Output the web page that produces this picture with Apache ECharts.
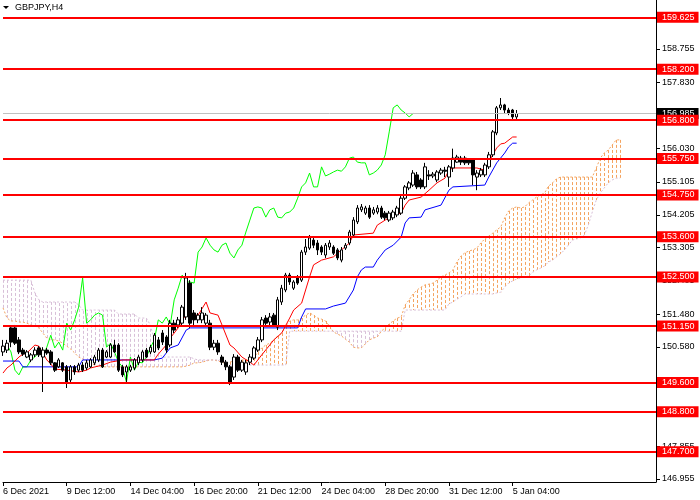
<!DOCTYPE html>
<html><head><meta charset="utf-8">
<script src="https://cdn.jsdelivr.net/npm/echarts@6/dist/echarts.min.js"></script>
<style>html,body{margin:0;padding:0;background:#fff}#c{width:700px;height:500px}</style>
</head><body><div id="c"></div><script>
const FONT = '"Liberation Sans", Arial, sans-serif';
const symbolTitle = 'GBPJPY,H4';
const xTickLabels = ['6 Dec 2021','9 Dec 12:00','14 Dec 04:00','16 Dec 20:00','21 Dec 12:00','24 Dec 04:00','28 Dec 20:00','31 Dec 12:00','5 Jan 04:00'];
const barsPerLabel = 16;
const yTickValues = [158.755,157.830,156.905,156.030,155.105,154.205,153.305,152.405,151.480,150.580,147.855,146.955];
const levelLines = [159.625,158.200,156.800,155.750,154.750,153.600,152.500,151.150,149.600,148.800,147.700];
const bidPrice = 156.985;
// candles: [open, close, low, high]
const ohlc = [
[150.44,150.60,150.33,150.77],[150.49,150.68,150.41,150.77],[151.10,150.71,150.57,151.15],[151.10,150.68,150.63,151.18],
[150.77,150.44,150.38,150.85],[150.49,150.38,150.33,150.55],[150.30,150.44,150.27,150.49],[150.22,150.36,150.16,150.41],
[150.36,150.49,150.30,150.57],[150.55,150.36,150.30,150.60],[150.30,150.49,149.34,150.57],[150.49,150.41,150.36,150.55],
[150.44,150.14,150.08,150.49],[150.14,149.94,149.89,150.16],[150.03,150.22,150.00,150.27],[150.14,149.94,149.89,150.16],
[150.03,149.61,149.45,150.08],[149.67,150.03,149.61,150.08],[150.03,149.89,149.81,150.08],[149.94,150.08,149.89,150.14],
[150.08,149.94,149.89,150.16],[150.00,150.14,149.94,150.22],[150.03,150.22,150.00,150.27],[150.14,150.30,150.08,150.36],
[150.22,150.49,150.16,150.55],[150.49,150.03,150.00,150.55],[150.30,150.44,150.27,150.49],[150.30,150.63,150.27,150.68],
[150.63,150.44,150.41,150.77],[150.63,149.94,149.89,150.68],[150.03,149.81,149.75,150.08],[149.89,150.03,149.61,150.08],
[149.94,150.03,149.89,150.08],[150.00,150.22,149.94,150.27],[150.14,150.30,150.08,150.36],[150.22,150.44,150.16,150.49],
[150.49,150.30,150.27,150.55],[150.44,150.57,150.38,150.63],[150.44,150.90,150.41,150.96],[150.77,150.55,150.49,150.85],
[150.96,150.71,150.63,151.04],[150.85,150.49,150.41,150.90],[150.63,151.23,150.57,151.32],[151.23,151.04,150.96,151.32],
[151.18,151.32,151.10,151.40],[151.23,151.67,151.15,151.73],[151.40,152.47,151.32,152.61],[152.33,151.23,151.10,152.41],
[151.51,151.32,151.15,151.59],[151.32,151.45,151.23,151.51],[151.32,151.51,151.23,151.67],[151.23,151.45,151.18,151.51],
[151.23,150.57,150.49,151.32],[150.57,150.68,150.49,150.77],[150.68,150.44,150.36,150.77],[150.30,150.16,150.08,150.36],
[150.16,150.03,149.94,150.22],[150.03,149.61,149.53,150.08],[149.75,150.30,149.67,150.38],[150.30,149.94,149.89,150.36],
[149.94,150.16,149.89,150.22],[149.89,150.14,149.81,150.22],[150.16,150.30,150.08,150.38],[150.27,150.55,150.22,150.60],
[150.49,150.77,150.44,150.85],[150.77,151.32,150.71,151.40],[151.37,151.23,151.18,151.45],[151.26,151.40,151.18,151.51],
[151.45,151.18,151.15,151.51],[151.12,151.87,151.04,151.95],[151.81,152.19,151.73,152.28],[152.14,152.55,152.08,152.61],
[152.55,152.36,152.28,152.61],[152.19,152.36,152.14,152.41],[152.47,152.33,152.28,152.55],[152.41,153.18,152.36,153.24],
[153.18,153.32,153.10,153.54],[153.29,153.57,153.24,153.65],[153.51,153.37,153.29,153.57],[153.43,153.24,153.10,153.51],
[153.32,153.18,153.10,153.37],[153.10,153.37,153.02,153.43],[153.32,153.43,153.24,153.51],[153.32,153.15,153.10,153.37],
[153.24,153.02,152.96,153.29],[152.96,153.24,152.90,153.32],[153.29,153.37,153.24,153.43],[153.43,153.73,153.37,153.79],
[153.65,154.06,153.57,154.14],[154.01,154.39,153.95,154.47],[154.34,154.42,154.28,154.50],[154.25,154.39,154.20,154.45],
[154.39,154.14,154.09,154.47],[154.25,154.34,154.20,154.42],[154.28,154.39,154.22,154.47],[154.39,154.14,154.09,154.45],
[154.25,154.12,154.06,154.31],[154.06,154.25,154.01,154.31],[154.12,154.28,154.06,154.34],[154.20,154.39,154.14,154.45],
[154.25,154.66,154.20,154.72],[154.66,154.97,154.61,155.02],[154.94,155.08,154.88,155.13],[155.02,155.35,154.97,155.43],
[155.30,154.97,154.91,155.38],[155.16,154.97,154.91,155.21],[154.97,155.52,154.91,155.63],[155.30,155.27,155.16,155.43],
[155.27,155.32,155.21,155.38],[155.16,155.38,155.10,155.43],[155.35,155.43,155.30,155.49],[155.43,155.40,155.24,155.52],
[155.24,155.52,154.97,155.57],[155.49,155.76,155.38,156.02],[155.65,155.79,155.63,155.85],[155.76,155.65,155.57,155.82],
[155.76,155.63,155.57,155.82],[155.71,155.63,155.57,155.76],[155.71,155.30,155.02,155.76],[155.24,155.35,154.88,155.43],
[155.30,155.43,155.24,155.49],[155.30,155.57,155.24,155.63],[155.52,155.85,155.46,155.93],[155.85,156.48,155.79,156.53],
[156.45,157.14,156.39,157.19],[157.14,157.22,157.08,157.41],[157.22,157.08,156.97,157.25],[157.08,157.00,156.94,157.14],
[157.08,156.89,156.83,157.11],[156.89,156.985,156.81,157.08]
];
// Tenkan-sen [bar, price]
const tenkan = [[0,149.86],[1,150.00],[2,150.08],[3,150.19],[4,150.30],[5,150.38],[6,150.41],[7,150.52],[8,150.63],[9,150.60],
[10,150.41],[11,150.22],[12,150.11],[13,149.97],[16,149.94],[19,149.89],[21,149.94],[22,150.00],[25,150.08],[27,150.16],
[30,150.22],[38,150.22],[39,150.38],[41,150.63],[42,150.82],[44,151.10],[45,151.32],[46,151.45],[49,151.45],[51,151.81],
[52,151.51],[54,151.45],[55,151.18],[57,150.63],[58,150.55],[60,150.30],[62,150.16],[63,150.08],[65,150.36],[67,150.63],
[68,150.77],[70,150.96],[72,151.37],[73,151.59],[75,151.78],[77,152.50],[78,152.83],[80,152.96],[83,153.05],[85,153.24],
[87,153.43],[88,153.65],[93,153.70],[94,153.92],[96,154.06],[98,154.20],[100,154.25],[101,154.47],[102,154.61],[105,154.69],
[107,154.88],[109,155.08],[111,155.21],[112,155.43],[113,155.49],[119,155.49],[121,155.43],[122,155.65],[123,155.85],[124,156.04],
[125,156.15],[126,156.17],[128,156.34],[129,156.34]];
// Kijun-sen [bar, price]
const kijun = [[0,150.19],[4,150.19],[5,150.03],[19,150.03],[20,150.22],[38,150.22],[40,150.27],[42,150.55],[44,150.63],[46,151.04],
[47,151.10],[74,151.10],[75,151.40],[76,151.62],[81,151.62],[83,151.70],[86,151.78],[88,152.14],[89,152.50],[90,152.69],
[91,152.77],[93,152.77],[94,152.96],[96,153.24],[98,153.37],[100,153.59],[101,153.98],[102,154.12],[105,154.14],[106,154.34],
[110,154.47],[112,154.88],[113,154.97],[121,155.02],[122,155.24],[124,155.63],[126,155.90],[127,156.07],[128,156.17],[129,156.17]];
const chikouShift = 26;
// Senkou Span A / B per bar (already shifted forward on the chart)
const spanA = [
151.65,151.37,151.29,151.29,151.26,151.26,151.23,151.18,151.15,151.10,
150.96,150.82,150.77,150.77,150.74,150.68,150.60,150.52,150.41,150.30,
150.25,150.19,150.14,150.08,150.03,150.03,150.03,150.03,150.03,150.03,
150.03,150.03,150.03,150.03,150.03,150.03,150.03,150.03,150.03,150.03,
150.03,150.03,150.03,150.03,150.03,150.03,150.05,150.08,150.14,150.14,
150.16,150.19,150.22,150.22,150.19,150.16,150.11,150.16,150.19,150.19,
150.22,150.22,150.22,150.27,150.44,150.55,150.63,150.68,150.77,150.88,
150.96,151.15,151.29,151.32,151.32,151.37,151.45,151.51,151.45,151.37,
151.34,151.29,151.15,150.99,150.93,150.88,150.79,150.71,150.57,150.55,
150.55,150.66,150.77,150.82,150.85,151.01,151.10,151.21,151.29,151.37,
151.40,151.73,151.87,152.03,152.14,152.22,152.28,152.30,152.33,152.41,
152.50,152.55,152.61,152.69,152.91,153.07,153.16,153.21,153.24,153.29,
153.43,153.54,153.62,153.70,153.79,153.87,154.12,154.31,154.39,154.42,
154.39,154.42,154.53,154.61,154.69,154.75,154.80,154.99,155.08,155.19,
155.24,155.24,155.24,155.24,155.24,155.24,155.24,155.24,155.24,155.49,
155.76,155.90,155.98,156.12,156.26,156.26];
const spanB = [
152.41,152.41,152.41,152.41,152.41,152.41,152.41,152.41,152.06,151.87,
151.81,151.81,151.81,151.81,151.81,151.81,151.81,151.81,151.81,151.73,
151.59,151.59,151.59,151.59,151.59,151.59,151.59,151.59,151.59,151.48,
151.48,151.48,151.48,151.48,151.37,151.37,151.37,151.18,150.77,150.44,
150.30,150.30,150.30,150.30,150.30,150.30,150.30,150.30,150.25,150.22,
150.22,150.22,150.22,150.22,150.22,150.22,150.16,150.08,150.08,150.08,
150.08,150.08,150.08,150.08,150.08,150.08,150.08,150.08,150.08,150.08,
150.08,150.08,151.01,151.01,151.01,151.01,151.01,151.01,151.01,151.01,
151.01,151.01,151.01,151.01,151.01,151.01,151.01,151.01,151.01,151.01,
151.01,151.01,151.01,151.01,151.01,151.01,151.01,151.01,151.01,151.01,
151.01,151.59,151.59,151.59,151.59,151.59,151.59,151.59,151.59,151.59,
151.59,151.59,151.76,151.81,151.89,151.95,152.03,152.03,152.03,152.03,
152.03,152.03,152.03,152.03,152.06,152.08,152.22,152.33,152.39,152.44,
152.47,152.50,152.52,152.63,152.69,152.74,152.80,152.91,152.96,153.05,
153.13,153.24,153.37,153.51,153.54,153.57,153.65,153.92,154.28,154.61,
154.80,154.94,155.08,155.16,155.21,155.21];
const totalSlots = 165;

const barSlots = [];
for (let i = 0; i < totalSlots; i++) barSlots.push(String(i));
const chikou = ohlc.slice(chikouShift).map((c, i) => [i, c[1]]);
const cloud = spanA.map((a, i) => [i, a, spanB[i]]);
const showLabel = (idx) => idx % barsPerLabel === 0 && idx / barsPerLabel < xTickLabels.length;

const chart = echarts.init(document.getElementById('c'), null, {renderer: 'canvas'});
chart.setOption({
  animation: false,
  backgroundColor: '#ffffff',
  grid: {left: 0, right: 44, top: 0, bottom: 18, containLabel: false},
  xAxis: {
    type: 'category', data: barSlots, boundaryGap: false,
    axisLine: {show: true, lineStyle: {color: '#000', width: 1}},
    axisTick: {show: true, interval: (i) => showLabel(i), length: 4, lineStyle: {color: '#000'}},
    axisLabel: {show: true, interval: (i) => showLabel(i), align: 'left', margin: 5,
      formatter: (v, i) => xTickLabels[Number(v) / barsPerLabel] || '',
      color: '#000', fontSize: 9, fontFamily: FONT},
    splitLine: {show: false}
  },
  yAxis: {
    type: 'value', position: 'right', min: 146.87, max: 160.10, scale: true,
    axisLine: {show: true, lineStyle: {color: '#000', width: 1}},
    axisTick: {show: true, customValues: yTickValues, length: 4, lineStyle: {color: '#000'}},
    axisLabel: {show: true, customValues: yTickValues, margin: 6, formatter: (v) => v.toFixed(3),
      color: '#000', fontSize: 9, fontFamily: FONT},
    splitLine: {show: false}
  },
  graphic: [
    {type: 'polygon', shape: {points: [[3, 6], [9, 6], [6, 9]]}, style: {fill: '#000'}, z: 100},
    {type: 'text', x: 15, y: 3, style: {text: symbolTitle, font: '9px ' + FONT, fill: '#000'}, z: 100}
  ],
  series: [
    {
      type: 'custom', name: 'cloud', z: 1, silent: true,
      data: cloud,
      encode: {x: 0, y: [1, 2]},
      renderItem: function (params, api) {
        const i = api.value(0), a = api.value(1), b = api.value(2);
        const p1 = api.coord([i, a]), p2 = api.coord([i, b]);
        const x = Math.round(p1[0]) + 0.5;
        return {type: 'line', shape: {x1: x, y1: p1[1], x2: x, y2: p2[1]},
          style: {stroke: a >= b ? '#F4A460' : '#D8BFD8', lineWidth: 1, lineDash: [3, 2]}};
      }
    },
    {type: 'line', name: 'spanA', z: 2, data: spanA.map((v, i) => [i, v]), showSymbol: false, silent: true,
      lineStyle: {color: '#F4A460', width: 1, type: [2, 2]}},
    {type: 'line', name: 'spanB', z: 2, data: spanB.map((v, i) => [i, v]), showSymbol: false, silent: true,
      lineStyle: {color: '#D8BFD8', width: 1, type: [2, 2]}},
    {type: 'line', name: 'chikou', z: 3, data: chikou, showSymbol: false, silent: true,
      lineStyle: {color: '#00FF00', width: 1}},
    {type: 'line', name: 'kijun', z: 3, data: kijun, showSymbol: false, silent: true,
      lineStyle: {color: '#0000FF', width: 1}},
    {type: 'line', name: 'tenkan', z: 3, data: tenkan, showSymbol: false, silent: true,
      lineStyle: {color: '#FF0000', width: 1}},
    {type: 'candlestick', name: 'GBPJPY', z: 4, data: ohlc, barWidth: 3, silent: true,
      itemStyle: {color: '#FFFFFF', color0: '#000000', borderColor: '#000000', borderColor0: '#000000', borderWidth: 1}},
    {type: 'line', name: 'bid', z: 5, data: [], silent: true,
      markLine: {silent: true, symbol: ['none', 'none'], animation: false, precision: 3,
        lineStyle: {color: '#C0C0C0', width: 1, type: 'solid'},
        label: {show: true, position: 'end', distance: 1, formatter: (p) => Number(p.value).toFixed(3),
          color: '#fff', backgroundColor: '#000', padding: [1, 4, 0, 5], fontSize: 9, lineHeight: 10, fontFamily: FONT},
        data: [{yAxis: bidPrice}]}},
    {type: 'line', name: 'levels', z: 6, data: [], silent: true,
      markLine: {silent: true, symbol: ['none', 'none'], animation: false, precision: 3,
        lineStyle: {color: '#FF0000', width: 2, type: 'solid'},
        label: {show: true, position: 'end', distance: 1, formatter: (p) => Number(p.value).toFixed(3),
          color: '#fff', backgroundColor: '#FF0000', padding: [1, 4, 0, 5], fontSize: 9, lineHeight: 10, fontFamily: FONT},
        data: levelLines.map((v) => ({yAxis: v}))}}
  ]
});
</script></body></html>
